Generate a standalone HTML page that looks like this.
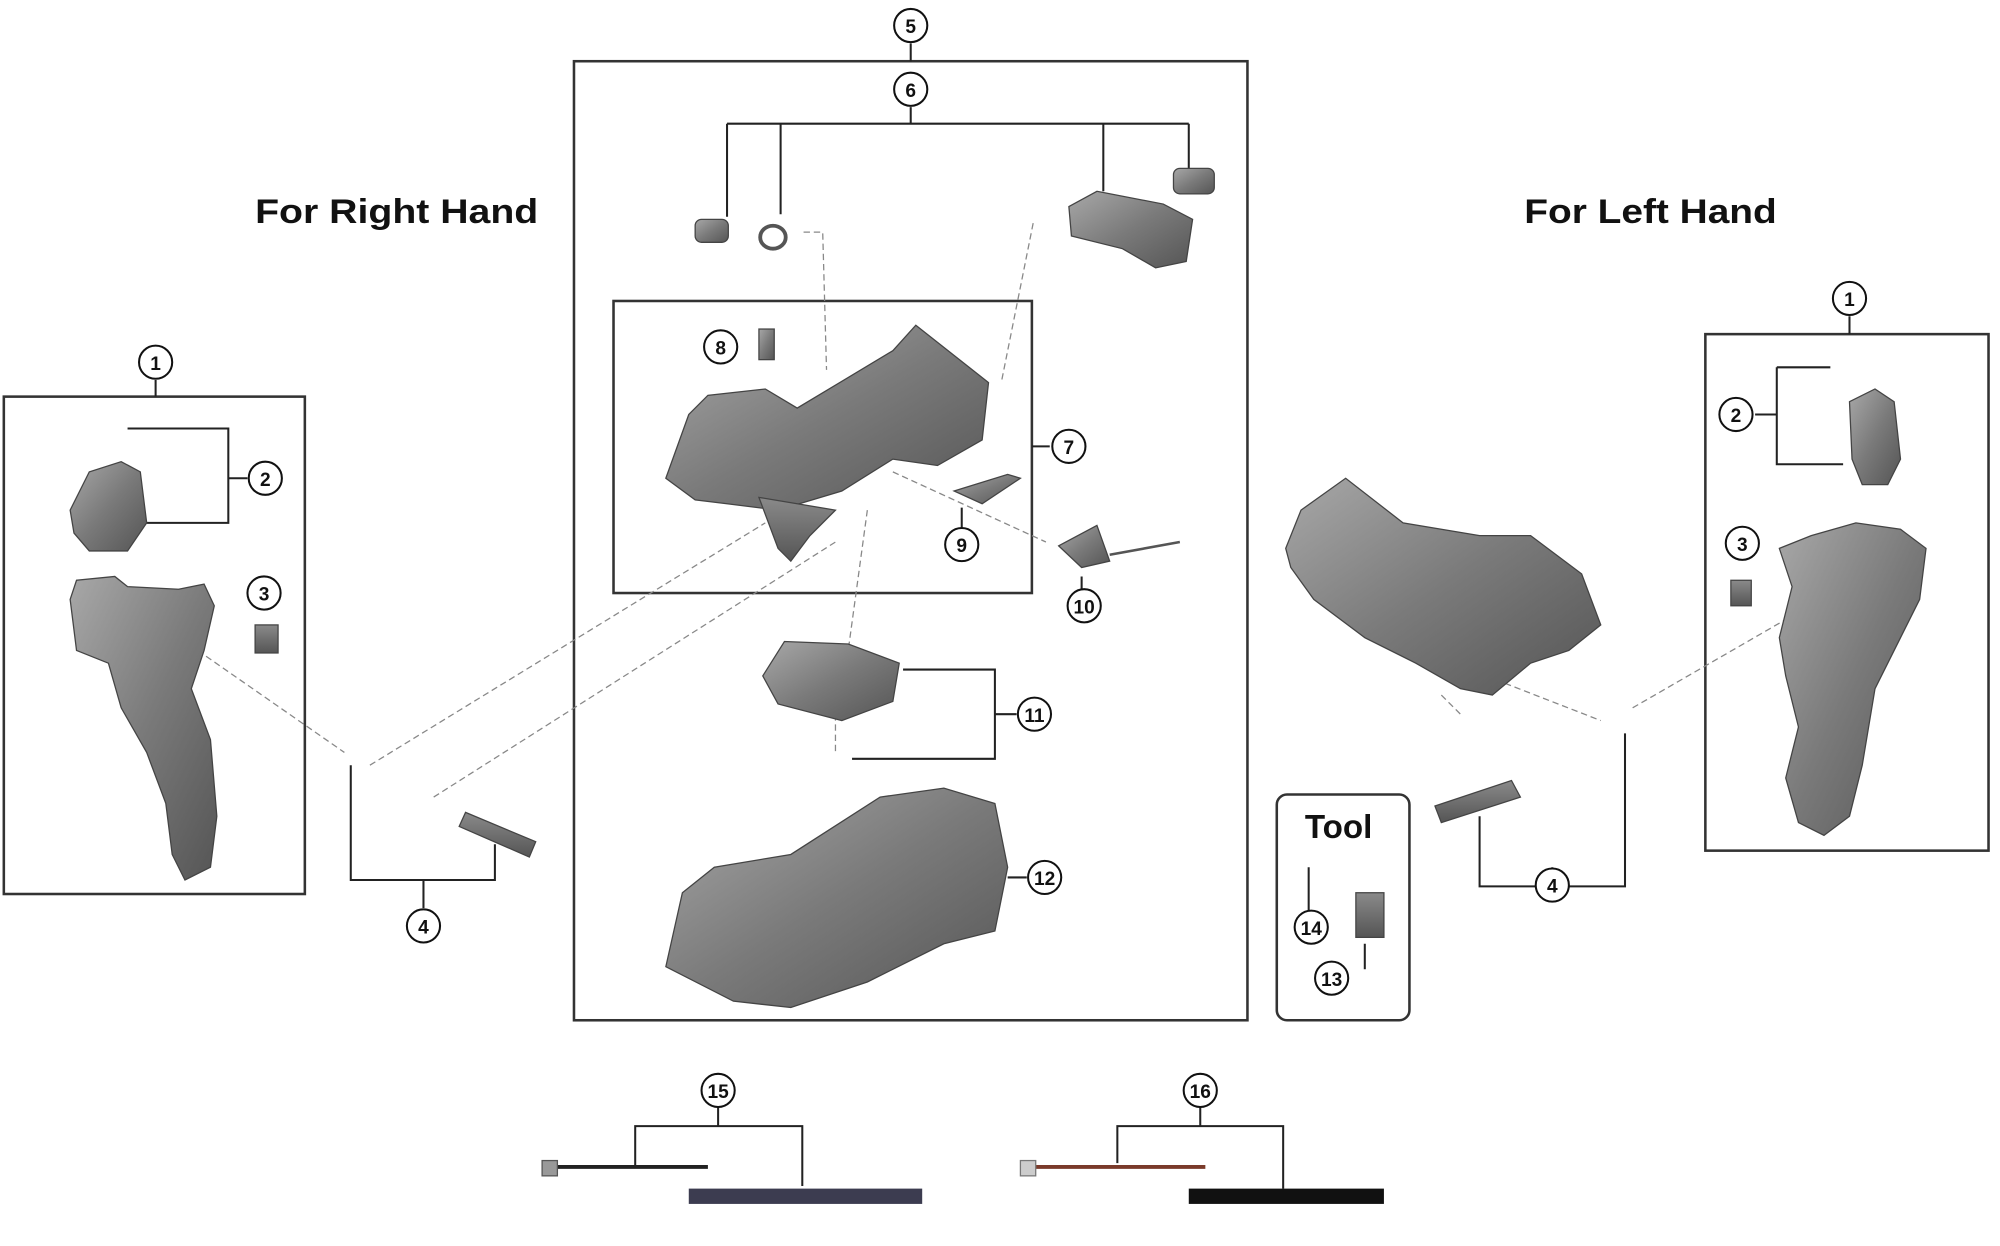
<!DOCTYPE html>
<html><head><meta charset="utf-8"><style>
html,body{margin:0;padding:0;background:#fff}
svg{display:block}
text{font-family:"Liberation Sans",sans-serif}
</style></head><body>
<svg width="2000" height="1246" viewBox="0 0 1568 977" preserveAspectRatio="none" xmlns="http://www.w3.org/2000/svg">
<defs>
<linearGradient id="g" x1="0" y1="0" x2="1" y2="1"><stop offset="0" stop-color="#a8a8a8"/><stop offset="0.5" stop-color="#7a7a7a"/><stop offset="1" stop-color="#555"/></linearGradient>
<linearGradient id="g2" x1="0" y1="0" x2="0" y2="1"><stop offset="0" stop-color="#8a8a8a"/><stop offset="1" stop-color="#555"/></linearGradient>
</defs>
<g fill="none" stroke="#333" stroke-width="2">
<rect x="450" y="48" width="528" height="752"/>
<rect x="481" y="236" width="328" height="229"/>
<rect x="3" y="311" width="236" height="390"/>
<rect x="1337" y="262" width="222" height="405"/>
<rect x="1001" y="623" width="104" height="177" rx="8"/>
</g>
<g fill="none" stroke="#222" stroke-width="1.6">
<path d="M714 34V48M714 84V97M570 97H932M570 97V170M612 97V168M865 97V150M932 97V132"/>
<path d="M100 336H179V410H108M179 375H194M122 298V311"/>
<path d="M809 350H823"/>
<path d="M754 398V415M848 452V462"/>
<path d="M708 525H780V595H668M780 560H797"/>
<path d="M790 688H805"/>
<path d="M275 600V690H388V662M332 690V712"/>
<path d="M1393 288H1435M1393 288V364H1445M1393 325H1376M1450 248V262"/>
<path d="M1160 640V695H1274V575M1217 695V680"/>
<path d="M563 868V883H498V915M563 883H629V930"/>
<path d="M941 868V883H876V912M941 883H1006V932"/>
<path d="M1026 680V715M1070 740V760"/>
</g>
<g fill="none" stroke="#888" stroke-width="1" stroke-dasharray="5,3">
<path d="M630 182H645L648 290M810 175L785 300M155 510L270 590M290 600L600 410M340 625L655 425M700 370L820 425M680 400L665 510M655 520L655 590M1165 530L1255 565M1280 555L1410 480M1130 545L1145 560"/>
</g>
<g stroke="#444" stroke-width="1">
<rect x="545" y="172" width="26" height="18" rx="5" fill="url(#g)"/>
<ellipse cx="606" cy="186" rx="10" ry="9" fill="none" stroke="#555" stroke-width="3"/>
<path d="M838 162L860 150L912 160L935 172L930 205L906 210L880 195L840 185Z" fill="url(#g)"/>
<rect x="920" y="132" width="32" height="20" rx="5" fill="url(#g)"/>
<path d="M522 375L540 325L555 310L600 305L625 320L700 275L718 255L775 300L770 345L735 365L700 360L660 385L610 400L570 395L545 392Z" fill="url(#g)"/>
<path d="M595 390L610 430L620 440L635 420L655 400Z" fill="url(#g2)"/>
<rect x="595" y="258" width="12" height="24" fill="url(#g)"/>
<path d="M748 385L790 372L800 375L770 395Z" fill="url(#g)"/>
<path d="M830 428L860 412L870 440L848 445Z" fill="url(#g)"/>
<path d="M870 435L925 425" stroke="#555" stroke-width="2"/>
<path d="M598 530L615 503L665 505L705 520L700 550L660 565L610 552Z" fill="url(#g)"/>
<path d="M522 758L535 700L560 680L620 670L690 625L740 618L780 630L790 680L780 730L740 740L680 770L620 790L575 785Z" fill="url(#g)"/>
<path d="M55 470L60 455L90 452L100 460L140 462L160 458L168 475L160 510L150 540L165 580L170 640L165 680L145 690L135 670L130 630L115 590L95 555L85 520L60 510Z" fill="url(#g)"/>
<path d="M55 400L70 370L95 362L110 370L115 410L100 432L70 432L58 418Z" fill="url(#g)"/>
<rect x="200" y="490" width="18" height="22" fill="url(#g2)"/>
<path d="M1008 430L1020 400L1055 375L1100 410L1160 420L1200 420L1240 450L1255 490L1230 510L1200 520L1170 545L1145 540L1110 520L1070 500L1030 470L1012 445Z" fill="url(#g)"/>
<path d="M1450 315L1470 305L1485 315L1490 360L1480 380L1460 380L1452 360Z" fill="url(#g)"/>
<path d="M1395 430L1420 420L1455 410L1490 415L1510 430L1505 470L1490 500L1470 540L1460 600L1450 640L1430 655L1410 645L1400 610L1410 570L1400 530L1395 500L1405 460Z" fill="url(#g)"/>
<rect x="1357" y="455" width="16" height="20" fill="url(#g2)"/>
<path d="M365 637L420 660L415 672L360 648Z" fill="url(#g2)"/>
<path d="M1125 632L1185 612L1192 625L1130 645Z" fill="url(#g2)"/>
<rect x="1063" y="700" width="22" height="35" fill="url(#g2)"/>
</g>
<path d="M425 915H555" stroke="#222" stroke-width="3"/>
<rect x="425" y="910" width="12" height="12" fill="#999" stroke="#555"/>
<rect x="540" y="932" width="183" height="12" fill="#3c3c50"/>
<path d="M805 915H945" stroke="#7a3a2a" stroke-width="3"/>
<rect x="800" y="910" width="12" height="12" fill="#ccc" stroke="#777"/>
<rect x="932" y="932" width="153" height="12" fill="#111"/>
<text x="200" y="175" font-size="27" font-weight="bold" fill="#111" textLength="222" lengthAdjust="spacingAndGlyphs">For Right Hand</text>
<text x="1195" y="175" font-size="27" font-weight="bold" fill="#111" textLength="198" lengthAdjust="spacingAndGlyphs">For Left Hand</text>
<text x="1023" y="657" font-size="26" font-weight="bold" fill="#111">Tool</text>
<g font-size="15" font-weight="bold" text-anchor="middle" fill="#111">
<g fill="#fff" stroke="#111" stroke-width="1.6">
<circle cx="714" cy="20" r="13"/><circle cx="714" cy="70" r="13"/><circle cx="565" cy="272" r="13"/>
<circle cx="838" cy="350" r="13"/><circle cx="754" cy="427" r="13"/><circle cx="850" cy="475" r="13"/>
<circle cx="811" cy="560" r="13"/><circle cx="819" cy="688" r="13"/><circle cx="122" cy="284" r="13"/>
<circle cx="208" cy="375" r="13"/><circle cx="207" cy="465" r="13"/><circle cx="332" cy="726" r="13"/>
<circle cx="1450" cy="234" r="13"/><circle cx="1361" cy="325" r="13"/><circle cx="1366" cy="426" r="13"/>
<circle cx="1217" cy="694" r="13"/><circle cx="1028" cy="727" r="13"/><circle cx="1044" cy="767" r="13"/>
<circle cx="563" cy="855" r="13"/><circle cx="941" cy="855" r="13"/>
</g>
<text x="714" y="26">5</text><text x="714" y="76">6</text><text x="565" y="278">8</text>
<text x="838" y="356">7</text><text x="754" y="433">9</text><text x="850" y="481">10</text>
<text x="811" y="566">11</text><text x="819" y="694">12</text><text x="122" y="290">1</text>
<text x="208" y="381">2</text><text x="207" y="471">3</text><text x="332" y="732">4</text>
<text x="1450" y="240">1</text><text x="1361" y="331">2</text><text x="1366" y="432">3</text>
<text x="1217" y="700">4</text><text x="1028" y="733">14</text><text x="1044" y="773">13</text>
<text x="563" y="861">15</text><text x="941" y="861">16</text>
</g>
</svg>
</body></html>
